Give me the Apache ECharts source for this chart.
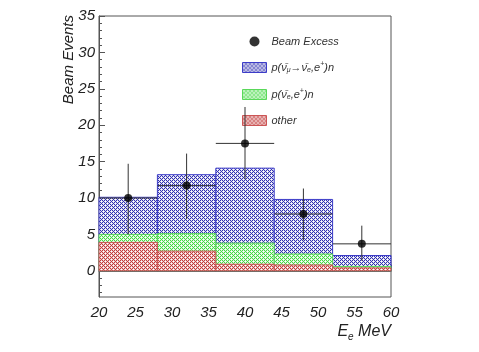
<!DOCTYPE html>
<html>
<head>
<meta charset="utf-8">
<script src="https://cdn.jsdelivr.net/npm/echarts@6/dist/echarts.min.js"></script>
<style>
  html, body { margin: 0; padding: 0; background: #fff; }
  #chart { width: 479px; height: 352px; }
</style>
</head>
<body>
<div id="chart"></div>
<script>
// bins in E_e (MeV)
const binLo = [20, 28, 36, 44, 52];
const binHi = [28, 36, 44, 52, 60];
// stacked components (heights of each layer)
const otherVals = [3.9, 2.7, 0.9, 0.8, 0.4];
const nueVals = [1.1, 2.4, 2.9, 1.5, 0.2];
const numuVals = [5.1, 8.1, 10.3, 7.5, 1.5];
// beam excess points with errors
const excessX = [24, 32, 40, 48, 56];
const excessY = [10.0, 11.7, 17.5, 7.8, 3.7];
const errUp = [4.7, 4.4, 5.0, 3.5, 2.5];
const errDown = [5.0, 4.6, 4.9, 3.6, 2.3];
const yTicks = [0, 5, 10, 15, 20, 25, 30, 35];
const yMinorTicks = [-3, -2, -1, 1, 2, 3, 4, 6, 7, 8, 9, 11, 12, 13, 14, 16, 17, 18, 19,
  21, 22, 23, 24, 26, 27, 28, 29, 31, 32, 33, 34];

function pattern(fg, bg) {
  const c = document.createElement('canvas');
  c.width = 4; c.height = 4;
  const ctx = c.getContext('2d');
  ctx.fillStyle = bg;
  ctx.fillRect(0, 0, 4, 4);
  ctx.fillStyle = fg;
  for (let x = 0; x < 4; x++) {
    for (let y = 0; y < 4; y++) {
      if ((x + y) % 2 === 0) ctx.fillRect(x, y, 1, 1);
    }
  }
  // small white holes to get the cross-hatch look
  ctx.fillStyle = '#ffffff';
  ctx.fillRect(1, 1, 1, 1);
  ctx.fillRect(3, 3, 1, 1);
  return { image: c, repeat: 'repeat' };
}

const bluePat = pattern('#3030b0', '#dcdcf2');
const greenPat = pattern('#44d844', '#d8f8d8');
const redPat = pattern('#c03c3c', '#f0c8c8');

// cumulative tops
const redTop = otherVals.map(v => v);
const greenTop = otherVals.map((v, i) => v + nueVals[i]);
const blueTop = greenTop.map((v, i) => v + numuVals[i]);

function histSeries(name, tops, fill, stroke) {
  return {
    name: name,
    type: 'custom',
    itemStyle: { color: fill },
    data: binLo.map((lo, i) => [lo, binHi[i], 0, tops[i]]),
    renderItem: function (params, api) {
      const p0 = api.coord([api.value(0), api.value(3)]);
      const p1 = api.coord([api.value(1), api.value(2)]);
      return {
        type: 'rect',
        shape: { x: p0[0], y: p0[1], width: p1[0] - p0[0], height: p1[1] - p0[1] },
        style: { fill: fill, stroke: stroke, lineWidth: 1 }
      };
    },
    z: 2
  };
}

const errData = excessX.map((x, i) => [x, excessY[i], excessY[i] - errDown[i], excessY[i] + errUp[i], binLo[i], binHi[i]]);

const chart = echarts.init(document.getElementById('chart'));
const italic = { fontFamily: 'Liberation Sans', fontStyle: 'italic' };

chart.setOption({
  animation: false,
  backgroundColor: '#fff',
  grid: { left: 99, right: 88, top: 16, bottom: 55, show: true, borderColor: '#555', borderWidth: 1 },
  xAxis: {
    type: 'value', min: 20, max: 60, interval: 5,
    axisLine: { show: true, lineStyle: { color: '#555' } },
    axisTick: { inside: true, length: 6, lineStyle: { color: '#555' } },
    minorTick: { show: true, splitNumber: 5, length: 3, lineStyle: { color: '#555' } },
    splitLine: { show: false },
    axisLabel: Object.assign({ fontSize: 15, color: '#222', margin: 8 }, italic)
  },
  yAxis: [{
    type: 'value', min: -3.6, max: 35,
    axisLine: { show: true, lineStyle: { color: '#555' } },
    axisTick: { show: true, inside: true, length: 6, customValues: yTicks, lineStyle: { color: '#555' } },
    splitLine: { show: false },
    axisLabel: Object.assign({ fontSize: 15, color: '#222', margin: 4, customValues: yTicks }, italic)
  }, {
    type: 'value', min: -3.6, max: 35, position: 'left',
    axisLine: { show: false },
    axisTick: { show: true, inside: true, length: 3, customValues: yMinorTicks, lineStyle: { color: '#555' } },
    splitLine: { show: false },
    axisLabel: { show: false }
  }],
  legend: {
    orient: 'vertical', left: 237, top: 31, itemWidth: 24, itemHeight: 10, itemGap: 14,
    selectedMode: false,
    data: [
      { name: 'Beam Excess', icon: 'circle', itemStyle: { color: '#000' } },
      { name: 'numu', icon: 'rect', itemStyle: { color: bluePat, borderColor: '#3c3cc8', borderWidth: 1 } },
      { name: 'nue', icon: 'rect', itemStyle: { color: greenPat, borderColor: '#5ad85a', borderWidth: 1 } },
      { name: 'other', icon: 'rect', itemStyle: { color: redPat, borderColor: '#cc5555', borderWidth: 1 } }
    ],
    formatter: function (name) {
      if (name === 'numu') return 'p(ν\u0304{sub|μ}→ν\u0304{sub|e},e{sup|+})n';
      if (name === 'nue') return 'p(ν\u0304{sub|e},e{sup|+})n';
      return name;
    },
    textStyle: Object.assign({
      fontSize: 11, color: '#333',
      rich: {
        sub: Object.assign({ fontSize: 7, color: '#333', padding: [6, 0, 0, 0] }, italic),
        sup: Object.assign({ fontSize: 7, color: '#333', padding: [0, 0, 6, 0] }, italic)
      }
    }, italic)
  },
  graphic: [
    {
      type: 'text', x: 61, y: 15, rotation: Math.PI / 2,
      style: Object.assign({ text: 'Beam Events', fontSize: 15, fill: '#222', align: 'right', verticalAlign: 'top' }, italic)
    },
    {
      type: 'text', right: 88, top: 324,
      style: Object.assign({
        text: '{m|E}{s|e}{m| MeV}', fill: '#222',
        rich: {
          m: Object.assign({ fontSize: 16, fill: '#222' }, italic),
          s: Object.assign({ fontSize: 10, fill: '#222', padding: [10, 0, 0, 0] }, italic)
        }
      }, italic)
    }
  ],
  series: [
    histSeries('numu', blueTop, bluePat, '#3c3cc8'),
    histSeries('nue', greenTop, greenPat, '#5ad85a'),
    histSeries('other', redTop, redPat, '#cc5555'),
    {
      name: 'errors',
      type: 'custom',
      data: errData,
      z: 4,
      renderItem: function (params, api) {
        const lo = api.coord([api.value(0), api.value(2)]);
        const hi = api.coord([api.value(0), api.value(3)]);
        const l = api.coord([api.value(4), api.value(1)]);
        const r = api.coord([api.value(5), api.value(1)]);
        const st = { stroke: '#333', lineWidth: 1 };
        return {
          type: 'group',
          children: [
            { type: 'line', shape: { x1: lo[0], y1: lo[1], x2: hi[0], y2: hi[1] }, style: st },
            { type: 'line', shape: { x1: l[0], y1: l[1], x2: r[0], y2: r[1] }, style: st }
          ]
        };
      }
    },
    {
      name: 'Beam Excess',
      type: 'scatter',
      symbol: 'circle',
      symbolSize: 8,
      itemStyle: { color: '#000' },
      data: excessX.map((x, i) => [x, excessY[i]]),
      z: 5
    }
  ]
});
</script>
</body>
</html>
